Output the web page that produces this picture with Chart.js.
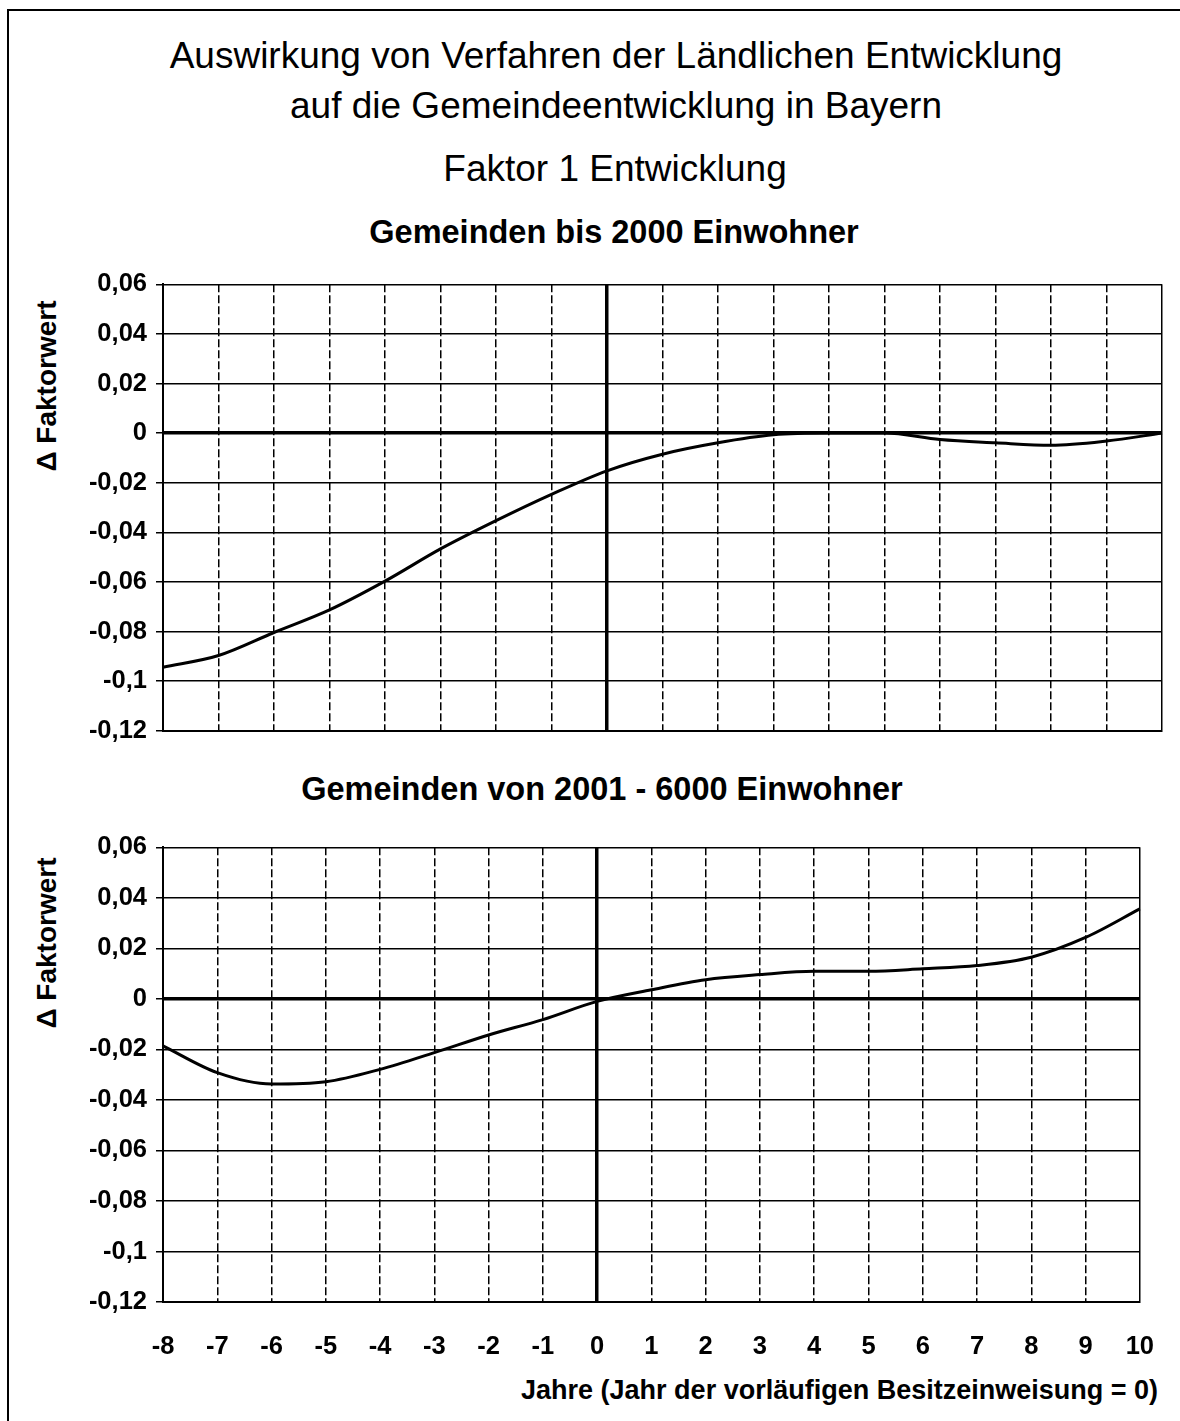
<!DOCTYPE html>
<html>
<head>
<meta charset="utf-8">
<script src="https://cdn.jsdelivr.net/npm/chart.js@4.4.1/dist/chart.umd.min.js"></script>
<style>
  html, body { margin: 0; padding: 0; background: #fff; }
  #page { position: relative; width: 1180px; height: 1421px; overflow: hidden; font-family: "Liberation Sans", Arial, sans-serif; color: #000; }
  .frameL { position: absolute; left: 7px; top: 9px; width: 2px; height: 1412px; background: #000; }
  .frameT { position: absolute; left: 7px; top: 9px; width: 1173px; height: 2px; background: #000; }
  .txt { position: absolute; white-space: nowrap; line-height: 1; transform: translate(-50%, -50%); }
  .title { font-size: 37px; }
  .sub { font-size: 32.5px; font-weight: bold; }
  .ytitle { font-size: 28px; font-weight: bold; transform: translate(-50%, -50%) rotate(-90deg); }
  .xtitle { position: absolute; white-space: nowrap; line-height: 1; font-size: 27px; font-weight: bold; right: 22px; top: 1377px; }
  canvas { position: absolute; left: 0; }
</style>
</head>
<body>
<div id="page">
  <div class="frameL"></div>
  <div class="frameT"></div>
  <div class="txt title" style="left:616px; top:55px;">Auswirkung von Verfahren der Ländlichen Entwicklung</div>
  <div class="txt title" style="left:616px; top:105px;">auf die Gemeindeentwicklung in Bayern</div>
  <div class="txt title" style="left:615px; top:168px;">Faktor 1 Entwicklung</div>
  <div class="txt sub" style="left:614px; top:232px;">Gemeinden bis 2000 Einwohner</div>
  <div class="txt sub" style="left:602px; top:789px;">Gemeinden von 2001 - 6000 Einwohner</div>
  <div class="txt ytitle" style="left:47px; top:386px;">Δ Faktorwert</div>
  <div class="txt ytitle" style="left:47px; top:943px;">Δ Faktorwert</div>
  <div class="xtitle">Jahre (Jahr der vorläufigen Besitzeinweisung = 0)</div>
  <div style="position:absolute; left:0; top:260px; width:1180px; height:495px;"><canvas id="chartTop"></canvas></div>
  <div style="position:absolute; left:0; top:823px; width:1184px; height:547px;"><canvas id="chartBottom"></canvas></div>
</div>
<script>
// Jahre relativ zur vorläufigen Besitzeinweisung
var years = [-8, -7, -6, -5, -4, -3, -2, -1, 0, 1, 2, 3, 4, 5, 6, 7, 8, 9, 10];

// Gemeinden bis 2000 Einwohner
var valuesBis2000 = [-0.0944, -0.0897, -0.0804, -0.0713, -0.0597, -0.0467, -0.0353, -0.0247, -0.0152,
                     -0.0085, -0.0039, -0.0007, 0.0, 0.0, -0.0026, -0.0039, -0.0049, -0.0032, 0.0];

// Gemeinden von 2001 - 6000 Einwohner
var values2001bis6000 = [-0.0186, -0.0292, -0.0337, -0.0328, -0.0279, -0.0213, -0.0143, -0.0082, -0.001,
                         0.0036, 0.0076, 0.0096, 0.0109, 0.0109, 0.0119, 0.0132, 0.0165, 0.0243, 0.0356];

var yMin = -0.12, yMax = 0.06, yStep = 0.02;
var xMin = -8, xMax = 10;

var tickFont = { family: '"Liberation Sans", Arial, sans-serif', size: 25.5, weight: 'bold' };

function isZero(ctx) {
  return ctx.tick && Math.abs(ctx.tick.value) < 1e-9;
}

function makeChart(id, values, showXLabels, pad, xHeight) {
  var points = years.map(function (y, i) { return { x: y, y: values[i] }; });
  return new Chart(document.getElementById(id), {
    type: 'line',
    data: {
      datasets: [{
        data: points,
        borderColor: '#000',
        borderWidth: 3,
        pointRadius: 0,
        cubicInterpolationMode: 'monotone',
        clip: 4
      }]
    },
    options: {
      responsive: true,
      maintainAspectRatio: false,
      animation: false,
      events: [],
      layout: { padding: pad },
      plugins: { legend: { display: false }, tooltip: { enabled: false } },
      scales: {
        x: {
          type: 'linear',
          min: xMin,
          max: xMax,
          afterFit: function (s) { s.height = xHeight; },
          ticks: {
            display: showXLabels,
            stepSize: 1,
            autoSkip: false,
            maxRotation: 0,
            padding: 30,
            color: '#000',
            font: tickFont
          },
          grid: {
            color: '#000',
            lineWidth: function (ctx) { return isZero(ctx) ? 3.5 : 1.5; },
            drawTicks: false
          },
          border: {
            display: true,
            color: '#000',
            width: 2,
            dash: function (ctx) {
              if (!ctx.tick) return [];
              var v = ctx.tick.value;
              return (v === 0 || v === xMin || v === xMax) ? [] : [8, 3];
            }
          }
        },
        y: {
          min: yMin,
          max: yMax,
          afterFit: function (s) { s.width = 163; },
          ticks: {
            stepSize: yStep,
            padding: 9,
            color: '#000',
            font: tickFont,
            callback: function (v) {
              var r = Math.round(v * 100) / 100;
              if (r === 0) return '0';
              return String(r).replace('.', ',');
            }
          },
          grid: {
            color: '#000',
            lineWidth: function (ctx) { return isZero(ctx) ? 3.5 : 1.5; },
            drawTicks: true,
            tickLength: 7,
            tickColor: '#000',
            tickWidth: 1.5
          },
          border: { display: true, color: '#000', width: 2 }
        }
      }
    }
  });
}

makeChart('chartTop', valuesBis2000, false, { left: 0, top: 0, right: 18, bottom: 0 }, 10);
makeChart('chartBottom', values2001bis6000, true, { left: 0, top: 0, right: 36, bottom: 0 }, 68);
</script>
</body>
</html>
